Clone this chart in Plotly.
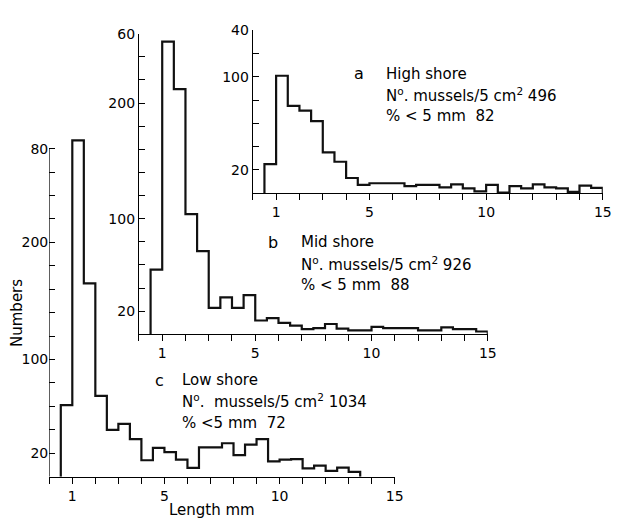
import plotly.graph_objects as go

# ---- data (bin left edges in mm, counts per 0.5 mm class) ----
BIN_LEFT = [0.5, 1.0, 1.5, 2.0, 2.5, 3.0, 3.5, 4.0, 4.5, 5.0, 5.5, 6.0, 6.5, 7.0, 7.5,
            8.0, 8.5, 9.0, 9.5, 10.0, 10.5, 11.0, 11.5, 12.0, 12.5, 13.0, 13.5, 14.0, 14.5]
BIN_WIDTH = 0.5

high_shore = [25, 101, 75, 71, 62, 35, 27, 13, 7, 8.5, 8.5, 8.5, 6, 7, 7,
              5, 7.5, 4, 1.5, 7, 0.5, 6, 4, 7.5, 5, 4, 1, 6.5, 4.5]
mid_shore = [56, 253, 212, 104, 72, 23, 32, 23, 34, 12, 14, 10, 7.5, 4.5, 5.5,
             9, 5, 3.5, 3.5, 6.5, 5.5, 5.5, 5.5, 3.5, 3.5, 6, 4.5, 4.5, 2.5]
low_shore = [61, 287, 165, 69, 40, 45, 32, 14, 24.5, 21, 14.5, 7.5, 25, 25, 28.5,
             18.3, 27.3, 32, 13, 14.5, 15, 7, 9.5, 5, 7.7, 4]

x_tickvals = [1, 5, 10, 15]
x_ticktext = ["1", "5", "10", "15"]

# y tick values / labels as printed (top labels are truncated in the source)
c_yticks = [20, 100, 200, 280]; c_ylabels = ["20", "100", "200", "80"]
b_yticks = [20, 100, 200, 260]; b_ylabels = ["20", "100", "200", "60"]
a_yticks = [20, 100, 140];      a_ylabels = ["20", "100", "40"]

texts = {
    "a": ["High shore", "N<sup>o</sup>. mussels/5 cm<sup>2</sup> 496", "% < 5 mm  82"],
    "b": ["Mid shore", "N<sup>o</sup>. mussels/5 cm<sup>2</sup> 926", "% < 5 mm  88"],
    "c": ["Low shore", "N<sup>o</sup>.  mussels/5 cm<sup>2</sup> 1034", "% <5 mm  72"],
}

W, H = 620, 519
FONT = "DejaVu Sans"

def step(counts):
    lefts = BIN_LEFT[:len(counts)]
    xs = [lefts[0]] + list(lefts) + [lefts[-1] + BIN_WIDTH]
    ys = [0] + list(counts) + [0]
    return xs, ys

# panel geometry in pixels: origin x, px per mm, origin y, px per count, y range top, axis top
panels = [
    # name, counts, x0px, pxmm, y0px, pxu, yrange_top, axis_top, ticks, labels, axis suffix
    ("c", low_shore, 50.0, 23.37, 476.0, 1.19, 296, 280, c_yticks, c_ylabels, ""),
    ("b", mid_shore, 141.0, 23.6, 331.5, 1.175, 260, 260, b_yticks, b_ylabels, "2"),
    ("a", high_shore, 256.5, 23.68, 188.0, 1.18, 140, 140, a_yticks, a_ylabels, "3"),
]

fig = go.Figure()
layout = dict(
    width=W, height=H, margin=dict(l=0, r=0, t=0, b=0),
    paper_bgcolor="white", plot_bgcolor="rgba(0,0,0,0)",
    showlegend=False, font=dict(family=FONT, size=14, color="black"),
)
shapes = []
annotations = []

for name, counts, x0, pxmm, y0, pxu, ytop, atop, yt, yl, sfx in panels:
    xs, ys = step(counts)
    fig.add_trace(go.Scatter(x=xs, y=ys, mode="lines", line_shape="hv",
                             line=dict(color="#111", width=2.2),
                             xaxis="x" + sfx, yaxis="y" + sfx, hoverinfo="skip"))
    xd = [x0 / W, (x0 + 15 * pxmm) / W]
    yd = [(H - y0) / H, (H - (y0 - ytop * pxu)) / H]
    xa = dict(domain=xd, range=[0, 15], anchor="y" + sfx, showgrid=False, zeroline=False,
              showline=True, linecolor="black", linewidth=1.2,
              ticks="outside", ticklen=6, tickwidth=1, tickcolor="black",
              tickmode="array", tickvals=x_tickvals, ticktext=x_ticktext,
              minor=dict(dtick=1, tick0=0, ticks="outside", ticklen=6, tickwidth=1, tickcolor="black"),
              tickfont=dict(family=FONT, size=14, color="black"), fixedrange=True)
    ya = dict(domain=yd, range=[0, ytop], anchor="x" + sfx, showgrid=False, zeroline=False,
              showline=(atop == ytop), linecolor="black", linewidth=1.2,
              ticks="inside", ticklen=6, tickwidth=1, tickcolor="black",
              tickmode="array", tickvals=yt, ticktext=yl,
              minor=dict(dtick=20, tick0=0, ticks="inside", ticklen=6, tickwidth=1, tickcolor="black"),
              tickfont=dict(family=FONT, size=14, color="black"), fixedrange=True)
    key = "" if sfx == "" else sfx
    layout["xaxis" + key] = xa
    layout["yaxis" + key] = ya
    if atop != ytop:
        shapes.append(dict(type="line", xref="x" + sfx, yref="y" + sfx, x0=0, x1=0, y0=0, y1=atop,
                           line=dict(color="black", width=1.2)))

# text blocks (pixel positions)
text_pos = {"a": (364, 390, 67), "b": (277, 303, 238), "c": (162, 183, 378)}
for name, (lx, tx, ty) in text_pos.items():
    annotations.append(dict(xref="paper", yref="paper", x=lx / W, y=1 - ty / H, text=name,
                            showarrow=False, xanchor="center", yanchor="middle",
                            font=dict(family=FONT, size=16, color="black")))
    for i, line in enumerate(texts[name]):
        annotations.append(dict(xref="paper", yref="paper", x=tx / W, y=1 - (ty + 21.5 * i) / H,
                                text=line, showarrow=False, xanchor="left", yanchor="middle",
                                font=dict(family=FONT, size=15, color="black")))

annotations.append(dict(xref="paper", yref="paper", x=215 / W, y=1 - 510 / H, text="Length mm",
                        showarrow=False, xanchor="center", yanchor="middle",
                        font=dict(family=FONT, size=15, color="black")))
annotations.append(dict(xref="paper", yref="paper", x=17 / W, y=1 - 310 / H, text="Numbers",
                        showarrow=False, xanchor="center", yanchor="middle", textangle=-90,
                        font=dict(family=FONT, size=15, color="black")))

layout["shapes"] = shapes
layout["annotations"] = annotations
fig.update_layout(**layout)
fig.write_html("out.html")
